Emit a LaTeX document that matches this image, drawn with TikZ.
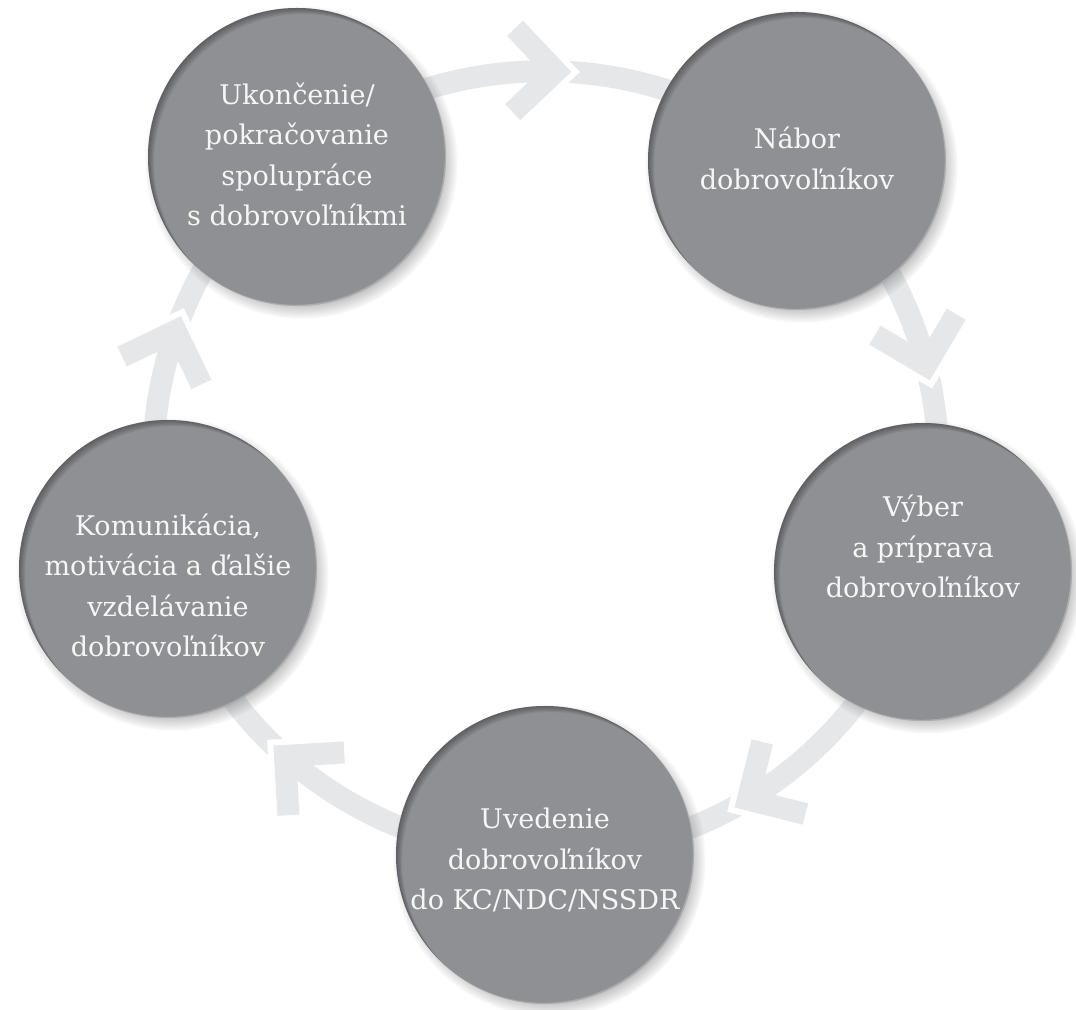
\documentclass[tikz,border=0pt]{standalone}
\usepackage{fontspec}
\setmainfont{DejaVu Serif}
\usetikzlibrary{shadows,decorations.markings}

\definecolor{circlegray}{RGB}{143,144,148}
\definecolor{bandgray}{RGB}{230,231,232}
\definecolor{textwhite}{RGB}{246,246,246}

\pgfdeclarelayer{background}
\pgfsetlayers{background,main}

\newcommand{\stepfont}{\fontsize{7.7}{11.4}\selectfont}
\newcommand{\steptext}[2][0pt]{\raisebox{#1}[\height][\depth]{\begin{tabular}{@{}c@{}}#2\end{tabular}}}

\tikzset{
	stepcircle/.style={circle, minimum size=2.98cm, inner sep=0pt, fill=circlegray,
		text=textwhite, font=\stepfont,
		circular drop shadow={shadow scale=1.05, shadow xshift=0.04cm, shadow yshift=-0.05cm, opacity=0.6, fill=black!60},
		path picture={
			\foreach \s in {1, ..., 5}
				\fill[black, opacity=0.07, even odd rule] (path picture bounding box.center) circle[radius=1.6cm]
					([shift={(\s*0.012cm, -\s*0.012cm)}]path picture bounding box.center) circle[radius=1.49cm];
			\fill[white, opacity=0.25, even odd rule] (path picture bounding box.center) circle[radius=1.6cm]
				([shift={(-0.012cm, 0.012cm)}]path picture bounding box.center) circle[radius=1.49cm];
		}},
	band/.style={draw=bandgray, line width=0.22cm},
	chevron/.style={postaction={decorate, decoration={markings, mark=at position #1 with {
		\draw[white, line width=0.22cm] (-0.335, 0.42) -- (0.085, 0) -- (-0.335, -0.42);
		\draw[bandgray, line width=0.22cm] (-0.42, 0.42) -- (0, 0) -- (-0.42, -0.42);
	}}}}
}

\begin{document}
\begin{tikzpicture}
	\useasboundingbox (0, 0) rectangle (10.76, 10.10);

	\node[stepcircle] (A) at (2.97, 8.53) {\steptext{Ukončenie/\\pokračovanie\\spolupráce\\s dobrovoľníkmi}};
	\node[stepcircle] (B) at (7.97, 8.49) {\steptext{Nábor\\dobrovoľníkov}};
	\node[stepcircle] (C) at (9.23, 4.38) {\steptext[0.23cm]{Výber\\a príprava\\dobrovoľníkov}};
	\node[stepcircle] (D) at (5.45, 1.55) {\steptext[-0.06cm]{Uvedenie\\dobrovoľníkov\\do KC/NDC/NSSDR}};
	\node[stepcircle] (E) at (1.68, 4.41) {\steptext[-0.19cm]{Komunikácia,\\motivácia a ďalšie\\vzdelávanie\\dobrovoľníkov}};

	\begin{pgfonlayer}{background}
		\fill[white] (0, 0) rectangle (10.76, 10.10);
		\draw[band, chevron=0.515] (A.center) to[bend left=39, looseness=0.95] (B.center);
		\draw[band, chevron=0.54] (B.center) to[bend left=33, looseness=0.93] (C.center);
		\draw[band, chevron=0.58] (C.center) to[bend left=37, looseness=0.95] (D.center);
		\draw[band, chevron=0.56] (D.center) to[bend left=37, looseness=0.95] (E.center);
		\draw[band, chevron=0.53] (E.center) to[bend left=33, looseness=0.93] (A.center);
	\end{pgfonlayer}
\end{tikzpicture}
\end{document}
